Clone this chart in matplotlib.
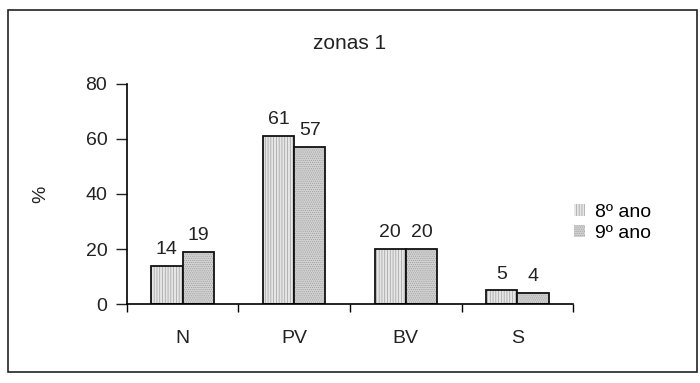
import numpy as np
import matplotlib
matplotlib.use("Agg")
import matplotlib.pyplot as plt
from matplotlib.patches import Rectangle

# data
categorias = ["N", "PV", "BV", "S"]
ano8 = [14, 61, 20, 5]
ano9 = [19, 57, 20, 4]
series = ["8º ano", "9º ano"]

plt.rcParams['font.family'] = ['Liberation Sans', 'DejaVu Sans']
plt.rcParams['hatch.linewidth'] = 0.5

fig = plt.figure(figsize=(7, 3.83), dpi=100)
ax = fig.add_axes([0.181, 0.206, 0.638, 0.575])

# outer frame around the whole chart
fig.patches.append(Rectangle((0.011, 0.029), 0.984, 0.945, transform=fig.transFigure,
                             fill=False, edgecolor="#222222", linewidth=1.2))

x = np.arange(len(categorias))
w = 0.28
b1 = ax.bar(x - w/2, ano8, w, color="#e6e6e6", edgecolor="#111111", linewidth=1.3,
            hatch="||||||", label=series[0])
b2 = ax.bar(x + w/2, ano9, w, color="#d2d2d2", edgecolor="#111111", linewidth=1.3,
            hatch="........", label=series[1])
for b in list(b1) + list(b2):
    b._hatch_color = (0.62, 0.62, 0.62, 1)

for bars, vals in ((b1, ano8), (b2, ano9)):
    for b, v in zip(bars, vals):
        ax.text(b.get_x() + b.get_width()/2, v + 2.8, str(v), ha="center", va="bottom",
                fontsize=14, color="#222222")

ax.set_xlim(-0.5, len(categorias) - 0.5)
ax.set_ylim(0, 80)
ax.set_yticks([0, 20, 40, 60, 80])
ax.set_xticks(x)
ax.set_xticklabels(categorias)
ax.set_xticks(np.arange(-0.5, len(categorias)), minor=True)
ax.tick_params(axis="x", which="major", length=0, pad=19, labelsize=14, colors="#222222")
ax.tick_params(axis="x", which="minor", length=6, direction="out", width=1)
ax.tick_params(axis="y", length=8, direction="out", width=1, labelsize=14, pad=6, colors="#222222")
for s in ("top", "right"):
    ax.spines[s].set_visible(False)
for s in ("left", "bottom"):
    ax.spines[s].set_linewidth(1.2)
ax.set_ylabel("%", fontsize=14, labelpad=26, color="#222222")
ax.set_title("zonas 1", fontsize=15, pad=25, color="#222222")

leg = ax.legend(loc="center left", bbox_to_anchor=(0.962, 0.37), frameon=False,
                fontsize=14, handlelength=0.6, handleheight=0.6, handletextpad=0.5,
                labelspacing=0.2)
for h in leg.legend_handles:
    h.set_linewidth(0)

fig.savefig("out.png", dpi=100)
